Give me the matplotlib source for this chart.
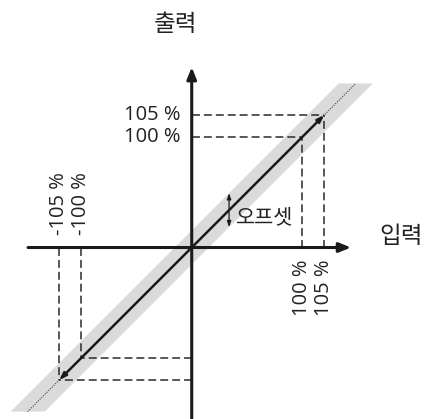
import numpy as np
import matplotlib.pyplot as plt
from matplotlib.patches import Polygon

plt.rcParams['font.family'] = ['Open Sans', 'Noto Sans CJK KR', 'DejaVu Sans']

# schematic diagram: input vs output with offset band
levels = [100, 105]          # percent labels
level_pos = [1.0, 1.2]       # where they sit on the (not to scale) axes
offset = 0.154               # half-width of the offset band
band_end = 1.485
x_label = '입력'
y_label = '출력'
offset_label = '오프셋'

fig = plt.figure(figsize=(4.25, 4.19), dpi=100)
ax = fig.add_axes([0, 0, 1, 1])
ax.set_xlim(-1.735, 2.111)
ax.set_ylim(-1.552, 2.240)
ax.axis('off')

# offset band
band = Polygon([(-band_end - offset, -band_end), (-band_end + offset, -band_end),
                (band_end + offset, band_end), (band_end - offset, band_end)],
               closed=True, facecolor='#dadada', edgecolor='none', zorder=1)
ax.add_patch(band)

# ideal line (dotted)
ax.plot([-band_end, band_end], [-band_end, band_end], ls=(0, (1, 1.2)),
        color='#444444', lw=0.8, zorder=2)

# axes with arrows
ax.annotate('', xy=(1.442, 0), xytext=(-1.481, 0),
            arrowprops=dict(arrowstyle='-|>,head_length=0.7,head_width=0.28',
                            lw=2.2, color='#1a1a1a', shrinkA=0, shrinkB=0), zorder=4)
ax.annotate('', xy=(0, 1.633), xytext=(0, -1.6),
            arrowprops=dict(arrowstyle='-|>,head_length=0.7,head_width=0.28',
                            lw=2.2, color='#1a1a1a', shrinkA=0, shrinkB=0), zorder=4)

# dashed guide lines
dash = dict(ls=(0, (5.2, 2.6)), color='#2a2a2a', lw=1.1, zorder=3)
top = level_pos[-1]
for p in level_pos:
    ax.plot([0, p], [p, p], **dash)
    ax.plot([p, p], [0, p], **dash)
    ax.plot([0, -p], [-p, -p], **dash)
    ax.plot([-p, -p], [0, -p], **dash)

# actual characteristic with arrows at both ends
ax.annotate('', xy=(top, top), xytext=(-top, -top),
            arrowprops=dict(arrowstyle='<|-|>,head_length=0.4,head_width=0.14',
                            lw=1.8, color='#1a1a1a', shrinkA=0, shrinkB=0), zorder=5)

# offset arrow
xo = 0.338
ax.annotate('', xy=(xo, xo + offset), xytext=(xo, xo - offset),
            arrowprops=dict(arrowstyle='<|-|>,head_length=0.35,head_width=0.12',
                            lw=0.9, color='#1a1a1a', shrinkA=0, shrinkB=0), zorder=5)
ax.text(0.40, 0.267, offset_label, fontsize=15, ha='left', va='center', color='#222222')

# tick labels
for lv, p in zip(levels, level_pos):
    ax.text(-0.106, p, f'{lv} %', fontsize=14.5, ha='right', va='center', color='#222222')
    ax.text(p, -0.113, f'{lv} %', fontsize=14.5, rotation=90, ha='center', va='top',
            color='#222222')
    ax.text(-p, 0.113, f'-{lv} %', fontsize=14.5, rotation=90, ha='center', va='bottom',
            color='#222222')

ax.text(-0.151, 2.014, y_label, fontsize=17, ha='center', va='center', color='#222222')
ax.text(1.894, 0.095, x_label, fontsize=17, ha='center', va='center', color='#222222')

fig.savefig('out.png', dpi=100)
